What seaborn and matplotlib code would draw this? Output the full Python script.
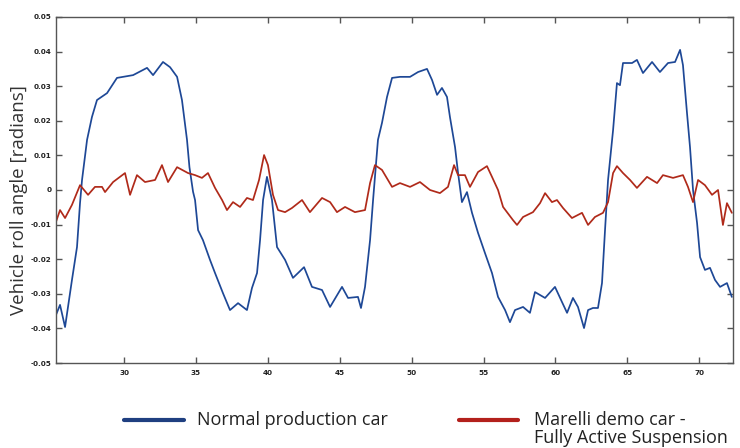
import numpy as np
import pandas as pd
import matplotlib
matplotlib.use("Agg")
import matplotlib.pyplot as plt
from matplotlib.lines import Line2D
import seaborn as sns

# ---- data ----
normal_t = [25.27, 25.55, 25.90, 26.38, 26.73, 26.94, 27.08, 27.43, 27.77, 28.12, 28.82, 29.51,
            30.63, 31.60, 32.02, 32.71, 33.20, 33.69, 34.03, 34.38, 34.55, 34.80, 34.94, 35.15,
            35.49, 35.98, 36.33, 36.88, 37.37, 37.93, 38.55, 38.90, 39.25, 39.46, 39.67, 39.94,
            40.29, 40.64, 41.20, 41.75, 42.10, 42.52, 43.07, 43.77, 44.33, 45.16, 45.58, 46.27,
            46.48, 46.76, 47.11, 47.32, 47.66, 47.94, 48.29, 48.64, 49.19, 49.89, 50.45, 51.07,
            51.42, 51.77, 52.11, 52.46, 52.67, 53.02, 53.23, 53.50, 53.85, 54.20, 54.62, 55.10,
            55.59, 56.01, 56.50, 56.84, 57.19, 57.75, 58.23, 58.58, 59.28, 59.97, 60.46, 60.81,
            61.22, 61.57, 61.99, 62.27, 62.61, 62.96, 63.24, 63.45, 63.66, 64.01, 64.28, 64.49,
            64.70, 65.33, 65.67, 66.09, 66.72, 67.27, 67.83, 68.32, 68.67, 68.87, 69.15, 69.36,
            69.57, 69.85, 70.06, 70.40, 70.75, 71.10, 71.45, 71.93, 72.27]
normal_roll = [-0.0361, -0.0332, -0.0396, -0.0260, -0.0165, -0.0038, 0.0029, 0.0145, 0.0211, 0.0260,
               0.0280, 0.0324, 0.0332, 0.0353, 0.0332, 0.0370, 0.0355, 0.0327, 0.0260, 0.0145,
               0.0066, -0.0005, -0.0029, -0.0116, -0.0145, -0.0202, -0.0240, -0.0298, -0.0347,
               -0.0327, -0.0347, -0.0283, -0.0240, -0.0145, -0.0029, 0.0038, -0.0029, -0.0165,
               -0.0202, -0.0254, -0.0240, -0.0223, -0.0280, -0.0289, -0.0338, -0.0280, -0.0312,
               -0.0309, -0.0341, -0.0280, -0.0145, -0.0029, 0.0145, 0.0194, 0.0269, 0.0324,
               0.0327, 0.0327, 0.0341, 0.0350, 0.0318, 0.0275, 0.0295, 0.0269, 0.0210, 0.0124,
               0.0049, -0.0035, -0.0006, -0.0066, -0.0124, -0.0182, -0.0240, -0.0309, -0.0347,
               -0.0382, -0.0347, -0.0338, -0.0355, -0.0295, -0.0312, -0.0280, -0.0324, -0.0355,
               -0.0312, -0.0338, -0.0399, -0.0347, -0.0341, -0.0341, -0.0269, -0.0116, 0.0029,
               0.0173, 0.0309, 0.0303, 0.0367, 0.0367, 0.0376, 0.0338, 0.0370, 0.0341, 0.0367,
               0.0370, 0.0405, 0.0361, 0.0223, 0.0124, 0.0000, -0.0095, -0.0194, -0.0231, -0.0225,
               -0.0260, -0.0280, -0.0269, -0.0309]

marelli_t = [25.27, 25.55, 25.90, 26.38, 26.94, 27.50, 27.98, 28.47, 28.68, 29.24, 30.07, 30.42,
             30.90, 31.46, 32.16, 32.64, 33.06, 33.69, 34.45, 34.94, 35.42, 35.84, 36.33, 36.82,
             37.16, 37.58, 38.07, 38.55, 38.97, 39.39, 39.74, 40.01, 40.36, 40.71, 41.20, 41.68,
             42.38, 42.93, 43.77, 44.33, 44.81, 45.37, 46.06, 46.76, 47.11, 47.45, 47.94, 48.64,
             49.19, 49.89, 50.58, 51.28, 51.97, 52.53, 52.95, 53.23, 53.71, 54.06, 54.62, 55.24,
             55.59, 56.01, 56.36, 57.05, 57.33, 57.75, 58.44, 58.93, 59.28, 59.76, 60.11, 60.53,
             61.15, 61.85, 62.27, 62.75, 63.31, 63.66, 64.01, 64.28, 64.70, 65.19, 65.67, 66.37,
             67.07, 67.48, 68.18, 68.87, 69.22, 69.57, 69.92, 70.40, 70.89, 71.31, 71.65, 71.93,
             72.27]
marelli_roll = [-0.0092, -0.0058, -0.0081, -0.0043, 0.0014, -0.0014, 0.0009, 0.0009, -0.0006, 0.0023,
                0.0049, -0.0014, 0.0043, 0.0023, 0.0029, 0.0072, 0.0023, 0.0066, 0.0049, 0.0043,
                0.0035, 0.0049, 0.0006, -0.0029, -0.0058, -0.0035, -0.0049, -0.0023, -0.0029,
                0.0029, 0.0101, 0.0072, -0.0014, -0.0058, -0.0064, -0.0052, -0.0029, -0.0064,
                -0.0023, -0.0035, -0.0064, -0.0049, -0.0064, -0.0058, 0.0020, 0.0072, 0.0058,
                0.0009, 0.0020, 0.0009, 0.0023, 0.0000, -0.0009, 0.0009, 0.0072, 0.0043, 0.0043,
                0.0009, 0.0052, 0.0069, 0.0038, 0.0000, -0.0049, -0.0087, -0.0101, -0.0078,
                -0.0064, -0.0038, -0.0009, -0.0035, -0.0029, -0.0052, -0.0081, -0.0066, -0.0101,
                -0.0078, -0.0066, -0.0035, 0.0049, 0.0069, 0.0049, 0.0029, 0.0006, 0.0038, 0.0020,
                0.0043, 0.0035, 0.0043, 0.0009, -0.0035, 0.0029, 0.0014, -0.0014, 0.0000, -0.0101,
                -0.0038, -0.0066]

series_names = ["Normal production car", "Marelli demo car -\nFully Active Suspension"]
x_ticks = [30, 35, 40, 45, 50, 55, 60, 65, 70]
y_ticks = [0.05, 0.04, 0.03, 0.02, 0.01, 0.0, -0.01, -0.02, -0.03, -0.04, -0.05]
y_tick_labels = ["0.05", "0.04", "0.03", "0.02", "0.01", "0", "-0.01", "-0.02", "-0.03", "-0.04", "-0.05"]

df = pd.concat([
    pd.DataFrame({"time": normal_t, "roll": normal_roll, "series": series_names[0]}),
    pd.DataFrame({"time": marelli_t, "roll": marelli_roll, "series": series_names[1]}),
], ignore_index=True)

sns.set_theme(style="white")
plt.rcParams["font.family"] = ["Open Sans", "DejaVu Sans"]

W, H = 740, 448
fig = plt.figure(figsize=(W / 100, H / 100), dpi=100)
ax = fig.add_axes([56 / W, 1 - 363 / H, 677 / W, 346 / H])

line_colors = ["#1e4896", "#b02a1a"]
palette = dict(zip(series_names, line_colors))
sns.lineplot(data=df, x="time", y="roll", hue="series", palette=palette,
             sort=False, estimator=None, linewidth=1.25, ax=ax, legend=False)

ax.set_xlim(25.27, 72.35)
ax.set_ylim(-0.05, 0.05)
ax.set_xticks(x_ticks)
ax.set_xticklabels([str(v) for v in x_ticks])
ax.set_yticks(y_ticks)
ax.set_yticklabels(y_tick_labels)
ax.set_xlabel("")
ax.set_ylabel("Vehicle roll angle [radians]", fontsize=13.5, color="#333333")
ax.yaxis.set_label_coords(-0.042, 0.47)

for s in ax.spines.values():
    s.set_visible(True)
    s.set_color("#555555")
    s.set_linewidth(1.0)
ax.tick_params(axis="both", direction="in", length=4, width=1.0, color="#555555",
               top=True, right=True, bottom=True, left=True, labeltop=False, labelright=False)
for lab in ax.get_xticklabels() + ax.get_yticklabels():
    lab.set_family(["Liberation Sans Narrow", "DejaVu Sans"])
    lab.set_fontweight("bold")
    lab.set_fontsize(5.2)
    lab.set_color("#222222")
ax.tick_params(axis="x", pad=5)
ax.tick_params(axis="y", pad=3)

# ---- legend below the plot, drawn in figure pixel coordinates ----
legend_colors = ["#1f3f80", "#b3201c"]
handle_x = [(124, 184), (459, 518)]
text_x = [197, 534]
row_y = [420, 438]
for name, col, (hx0, hx1), tx in zip(series_names, legend_colors, handle_x, text_x):
    fig.add_artist(Line2D([hx0 / W, hx1 / W], [1 - row_y[0] / H] * 2, color=col, lw=3,
                          transform=fig.transFigure))
    for i, part in enumerate(name.split("\n")):
        fig.text(tx / W, 1 - row_y[i] / H, part, fontsize=13, color="#222222",
                 ha="left", va="center")

fig.savefig("out.png", dpi=100, facecolor="white")
